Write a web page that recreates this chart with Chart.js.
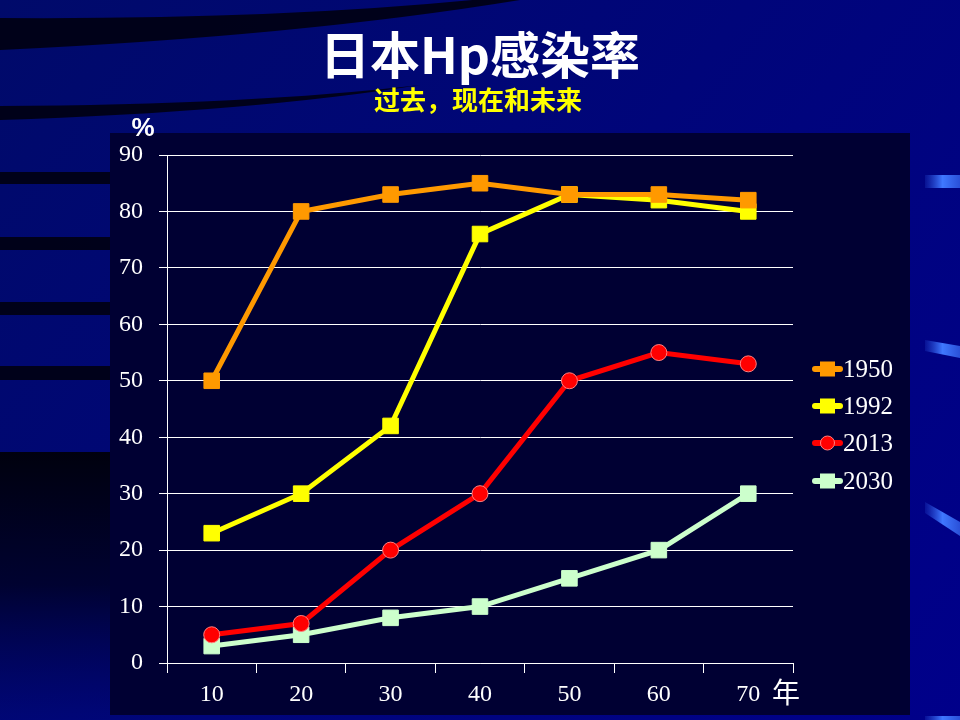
<!DOCTYPE html>
<html>
<head>
<meta charset="utf-8">
<script src="https://cdn.jsdelivr.net/npm/chart.js@4/dist/chart.umd.min.js"></script>
<style>
html,body{margin:0;padding:0;background:#000078;}
canvas{display:block;}
</style>
</head>
<body>
<canvas id="c" width="960" height="720"></canvas>
<script>
const categories = ['10', '20', '30', '40', '50', '60', '70'];
const seriesNames = ['1950', '1992', '2013', '2030'];
const values1950 = [50, 80, 83, 85, 83, 83, 82];
const values1992 = [23, 30, 42, 76, 83, 82, 80];
const values2013 = [5, 7, 20, 30, 50, 55, 53];
const values2030 = [3, 5, 8, 10, 15, 20, 30];
const yMin = 0, yMax = 90, yStep = 10;
const titleText = '日本Hp感染率';
const subtitleText = '过去，现在和未来';
const yUnit = '%';
const xUnit = '年';

const styles = [
  {color: '#FF9900', border: '#FF9900', point: 'rect', radius: 11},
  {color: '#FFFF00', border: '#FFFF00', point: 'rect', radius: 11},
  {color: '#FF0000', border: '#FF7F7F', point: 'circle', radius: 8},
  {color: '#CCFFCC', border: '#CCFFCC', point: 'rect', radius: 11}
];
const allValues = [values1950, values1992, values2013, values2030];

const datasets = allValues.map((vals, i) => ({
  label: seriesNames[i],
  data: vals,
  borderColor: styles[i].color,
  backgroundColor: styles[i].color,
  pointBackgroundColor: styles[i].color,
  pointBorderColor: styles[i].border,
  pointBorderWidth: 1,
  pointStyle: styles[i].point,
  pointRadius: styles[i].radius,
  pointHoverRadius: styles[i].radius,
  borderWidth: 5,
  tension: 0,
  fill: false
}));

function stroke(ctx, pts) {
  const g = ctx.createLinearGradient(pts[0][0], 0, 960, 0);
  g.addColorStop(0, 'rgba(40,80,220,0.2)');
  g.addColorStop(0.5, '#3f78ff');
  g.addColorStop(1, '#2a50d8');
  ctx.fillStyle = g;
  ctx.beginPath();
  ctx.moveTo(pts[0][0], pts[0][1]);
  for (let i = 1; i < pts.length; i++) ctx.lineTo(pts[i][0], pts[i][1]);
  ctx.closePath();
  ctx.fill();
}

const backgroundPlugin = {
  id: 'bg',
  beforeDraw(chart) {
    const ctx = chart.ctx;
    ctx.save();
    const g = ctx.createLinearGradient(0, 0, 960, 720);
    g.addColorStop(0, '#000a6a');
    g.addColorStop(1, '#00008a');
    ctx.fillStyle = g;
    ctx.fillRect(0, 0, 960, 720);
    ctx.fillStyle = 'rgba(0,0,10,0.85)';
    ctx.beginPath();
    ctx.moveTo(0, 18);
    ctx.quadraticCurveTo(300, 20, 520, -5);
    ctx.lineTo(520, 0);
    ctx.quadraticCurveTo(300, 36, 0, 50);
    ctx.closePath();
    ctx.fill();
    ctx.beginPath();
    ctx.moveTo(0, 106);
    ctx.quadraticCurveTo(250, 105, 420, 85);
    ctx.quadraticCurveTo(250, 112, 0, 120);
    ctx.closePath();
    ctx.fill();
    [[172, 184], [237, 250], [302, 315], [366, 380]].forEach(b => {
      ctx.fillRect(0, b[0], 112, b[1] - b[0]);
    });
    const dg = ctx.createLinearGradient(0, 450, 0, 720);
    dg.addColorStop(0, 'rgba(0,0,8,0.95)');
    dg.addColorStop(0.5, 'rgba(0,0,20,0.7)');
    dg.addColorStop(1, 'rgba(0,0,60,0)');
    ctx.fillStyle = dg;
    ctx.fillRect(0, 452, 112, 268);
    stroke(ctx, [[925, 175], [960, 175], [960, 188], [925, 188]]);
    stroke(ctx, [[925, 340], [960, 346], [960, 358], [925, 351]]);
    stroke(ctx, [[925, 502], [960, 522], [960, 536], [925, 513]]);
    stroke(ctx, [[925, 716], [960, 716], [960, 720], [925, 720]]);
    ctx.fillStyle = '#000033';
    ctx.fillRect(110, 133, 800, 582);
    ctx.restore();
  },
  afterDraw(chart) {
    const ctx = chart.ctx;
    ctx.save();
    ctx.textAlign = 'center';
    ctx.textBaseline = 'middle';
    ctx.fillStyle = '#FFFFFF';
    ctx.font = 'bold 50px "Noto Sans CJK SC"';
    ctx.fillText(titleText, 480, 55);
    ctx.fillStyle = '#FFFF00';
    ctx.font = 'bold 26px "Noto Sans CJK SC"';
    ctx.fillText(subtitleText, 478, 100);
    ctx.fillStyle = '#FFFFFF';
    ctx.font = 'bold 26px "Liberation Sans"';
    ctx.fillText(yUnit, 143, 129);
    ctx.font = '28px "Noto Sans CJK SC"';
    ctx.fillText(xUnit, 786, 692);
    const ys = [369, 406, 443, 481];
    chart.data.datasets.forEach((ds, i) => {
      const y = ys[i];
      const st = styles[i];
      ctx.strokeStyle = st.color;
      ctx.lineWidth = 6;
      ctx.lineCap = 'round';
      ctx.beginPath();
      ctx.moveTo(815, y);
      ctx.lineTo(840, y);
      ctx.stroke();
      ctx.fillStyle = st.color;
      ctx.strokeStyle = st.border;
      ctx.lineWidth = 1;
      if (st.point === 'circle') {
        ctx.beginPath();
        ctx.arc(827.5, y, 7, 0, Math.PI * 2);
        ctx.fill();
        ctx.stroke();
      } else {
        ctx.fillRect(820, y - 7.5, 15, 15);
      }
      ctx.fillStyle = '#FFFFFF';
      ctx.font = '25px "Liberation Serif"';
      ctx.textAlign = 'left';
      ctx.fillText(ds.label, 843, y + 1);
    });
    ctx.restore();
  }
};

new Chart(document.getElementById('c'), {
  type: 'line',
  data: {labels: categories, datasets: datasets},
  options: {
    responsive: false,
    animation: false,
    devicePixelRatio: 1,
    layout: {padding: {left: 110, top: 155, right: 167, bottom: 7}},
    plugins: {legend: {display: false}, title: {display: false}, tooltip: {enabled: false}},
    scales: {
      x: {
        offset: true,
        afterFit(s) { s.height = 50; },
        grid: {offset: true, drawOnChartArea: false, drawTicks: true, tickLength: 10, color: '#FFFFFF', lineWidth: 1},
        border: {display: true, color: '#FFFFFF', width: 1},
        ticks: {color: '#FFFFFF', padding: 7, font: {family: '"Liberation Serif"', size: 24}, maxRotation: 0}
      },
      y: {
        min: yMin, max: yMax,
        afterFit(s) { s.width = 57; },
        grid: {drawOnChartArea: true, drawTicks: true, tickLength: 8, color: '#FFFFFF', lineWidth: 1},
        border: {display: true, color: '#FFFFFF', width: 1},
        ticks: {stepSize: yStep, color: '#FFFFFF', padding: 16, font: {family: '"Liberation Serif"', size: 24}}
      }
    }
  },
  plugins: [backgroundPlugin]
});
</script>
</body>
</html>
